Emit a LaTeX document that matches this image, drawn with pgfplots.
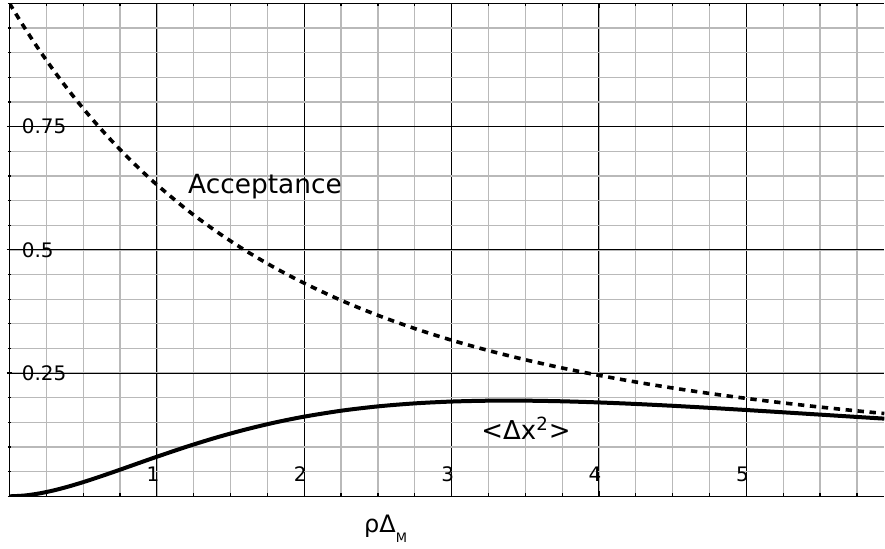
\documentclass[border=0pt]{standalone}
\usepackage{pgfplots}
\pgfplotsset{compat=1.18}
\usepackage{fontspec}
\setmainfont{DejaVu Sans}

\begin{document}
\begin{tikzpicture}
\begin{axis}[
  scale only axis,width=437.75pt,height=246.65pt,
  xmin=0,xmax=5.936,ymin=0,ymax=1,
  axis x line=box,axis y line=left,
  y axis line style={-},x axis line style={-},
  axis line style={black,line width=0.7pt},
  xtick={1,2,3,4,5},
  ytick={0.25,0.5,0.75},yticklabels={0.25,0.5,0.75},
  minor xtick={0,0.25,...,6},
  minor ytick={0,0.05,...,1},
  grid=both,
  major grid style={black,line width=0.5pt},
  minor grid style={gray!55,line width=0.65pt},
  tick style={black,line width=0.6pt},
  major tick length=2.5pt,minor tick length=1.5pt,
  /pgf/number format/assume math mode=true,
  tick label style={font=\fontsize{10}{12}\selectfont,inner sep=0pt},
  xticklabel style={anchor=south,yshift=7pt,xshift=-2pt},
  yticklabel style={anchor=west,xshift=7.25pt},
  xlabel={ρΔ\raisebox{-5pt}{\fontsize{6.5}{7}\selectfont M}},
  every axis x label/.style={at={(rel axis cs:0.430,0)},anchor=base,yshift=-18pt,font=\fontsize{12}{14}\selectfont},
]
% acceptance
\addplot[black,line width=1.8pt,dash pattern=on 3.2pt off 2.8pt,smooth] coordinates {
(0,1) (0.1,0.95163) (0.2,0.90635) (0.3,0.86394) (0.4,0.82420) (0.5,0.78694)
(0.6,0.75198) (0.7,0.71916) (0.8,0.68834) (0.9,0.65937) (1.0,0.63212)
(1.2,0.58234) (1.4,0.53815) (1.6,0.49881) (1.8,0.46372) (2.0,0.43233)
(2.25,0.39760) (2.5,0.36717) (2.75,0.34039) (3.0,0.31674) (3.25,0.29576)
(3.5,0.27709) (3.75,0.26039) (4.0,0.24542) (4.25,0.23194) (4.5,0.21975)
(4.75,0.20871) (5.0,0.19865) (5.25,0.18948) (5.5,0.18108) (5.75,0.17336)
(5.936,0.16800)};
% mean squared jump
\addplot[black,line width=2pt,smooth] coordinates {
(0,0) (0.1,0.00155) (0.2,0.00574) (0.3,0.0120) (0.4,0.01982) (0.5,0.02877)
(0.6,0.03853) (0.7,0.04877) (0.8,0.05928) (0.9,0.06984) (1.0,0.08030)
(1.2,0.10043) (1.4,0.11893) (1.6,0.13540) (1.8,0.14965) (2.0,0.16166)
(2.25,0.17363) (2.5,0.18247) (2.75,0.18856) (3.0,0.19227) (3.25,0.19398)
(3.5,0.19405) (3.75,0.19278) (4.0,0.19047) (4.25,0.18736) (4.5,0.18365)
(4.75,0.17950) (5.0,0.17507) (5.25,0.17045) (5.5,0.16575) (5.75,0.16103)
(5.936,0.15760)};
\node[anchor=base west,inner sep=0pt,font=\fontsize{13.2}{15}\selectfont] at (axis cs:1.21,0.6136) {Acceptance};
\node[anchor=base west,inner sep=0pt,font=\fontsize{13}{15}\selectfont] at (axis cs:3.199,0.1155) {<Δx\textsuperscript{2}>};
\path (rel axis cs:0,0) ++(-4.75pt,-25pt) coordinate (bbsw);
\path (rel axis cs:1,1) ++(0pt,1.7pt) coordinate (bbne);
\end{axis}
\path (bbsw) rectangle (bbne);
\end{tikzpicture}
\end{document}
